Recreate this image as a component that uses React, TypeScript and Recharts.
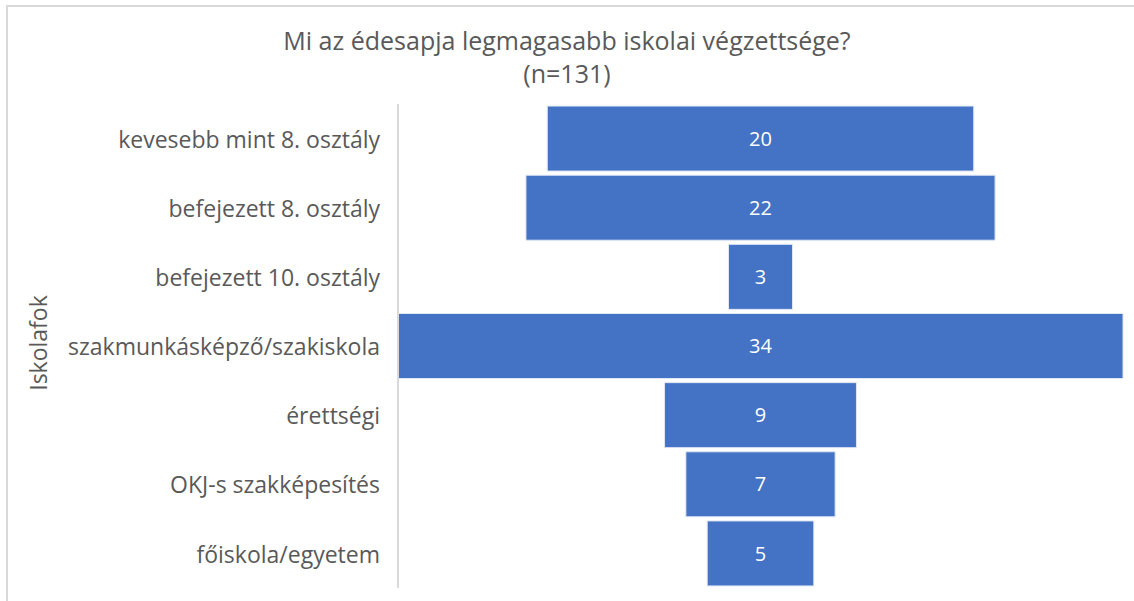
import React from "react"
import { BarChart, Bar, XAxis, YAxis, LabelList } from "recharts"

const categories = [
  "kevesebb mint 8. osztály",
  "befejezett 8. osztály",
  "befejezett 10. osztály",
  "szakmunkásképző/szakiskola",
  "érettségi",
  "OKJ-s szakképesítés",
  "főiskola/egyetem",
]
const counts = [20, 22, 3, 34, 9, 7, 5]

const maxCount = Math.max(...counts)
const data = categories.map((name, i) => ({
  name,
  value: counts[i],
  // invisible spacer so the bars sit centered like a funnel
  pad: (maxCount - counts[i]) / 2,
}))

const font = "'Open Sans', sans-serif"
const textColor = "#595959"

export default function App() {
  return (
    <div style={{ position: "absolute", left: 0, top: 0, width: 1134, height: 601, background: "#fff", fontFamily: font }}>
      <div style={{ position: "absolute", left: 6, top: 5, width: 1128, height: 596, borderLeft: "2px solid #d9d9d9", borderTop: "2px solid #d9d9d9", boxSizing: "border-box" }} />
      <div style={{ position: "absolute", left: 0, top: 24, width: 1134, textAlign: "center", fontSize: 25, lineHeight: "33px", color: textColor }}>
        Mi az édesapja legmagasabb iskolai végzettsége?
        <br />
        (n=131)
      </div>
      <div style={{ position: "absolute", left: 38, top: 343, transform: "translate(-50%, -50%) rotate(-90deg)", fontSize: 23, color: textColor, whiteSpace: "nowrap" }}>
        Iskolafok
      </div>
      <div style={{ position: "absolute", left: 0, top: 0 }}>
        <BarChart
          width={1134}
          height={601}
          data={data}
          layout="vertical"
          margin={{ top: 104, right: 11, bottom: 13, left: 0 }}
          barCategoryGap="3%"
        >
          <XAxis type="number" domain={[0, maxCount]} hide />
          <YAxis
            type="category"
            dataKey="name"
            width={398}
            tickLine={false}
            tickSize={0}
            tickMargin={18}
            axisLine={{ stroke: "#d9d9d9", strokeWidth: 2 }}
            tick={{ fill: textColor, fontSize: 23, fontFamily: font, dy: 1 }}
          />
          <Bar dataKey="pad" stackId="f" fill="transparent" isAnimationActive={false} />
          <Bar dataKey="value" stackId="f" fill="#4472C4" stroke="#dfe6f5" strokeWidth={1} isAnimationActive={false}>
            <LabelList dataKey="value" position="center" fill="#fff" fontSize={20} fontFamily={font} />
          </Bar>
        </BarChart>
      </div>
    </div>
  )
}
